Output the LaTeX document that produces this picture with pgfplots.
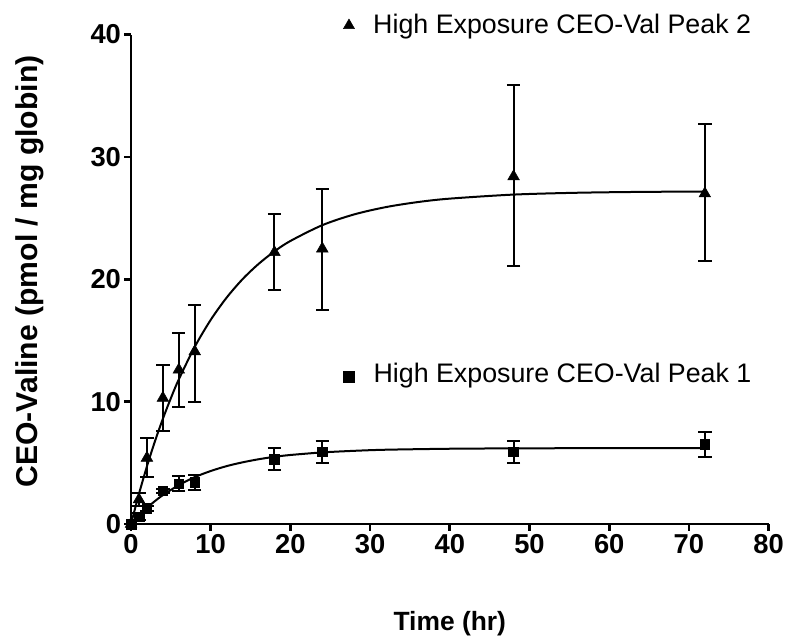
\documentclass[border=0pt]{standalone}
\usepackage{pgfplots}
\pgfplotsset{compat=1.18}
\usepackage{pgfplotstable}
\usepackage{fontspec}
\setmainfont{Liberation Sans}

\pgfplotstableread{
t y yp ym
0 0 0 0
1 2.0 0.5 0.5
2 5.4 1.6 1.55
4 10.3 2.7 2.7
6 12.6 3.0 3.0
8 14.1 3.8 4.1
18 22.2 3.1 3.1
24 22.5 4.9 5.0
48 28.4 7.5 7.3
72 27.0 5.7 5.5
}\peaktwo

\pgfplotstableread{
t y yp ym
0 0 0 0
1 0.6 0.3 0.3
2 1.3 0.2 0.2
4 2.7 0.2 0.2
6 3.3 0.6 0.6
8 3.4 0.6 0.6
18 5.3 0.9 0.9
24 5.9 0.9 0.9
48 5.9 0.9 0.9
72 6.5 1.0 1.0
}\peakone

\begin{document}
\begin{tikzpicture}
\path[use as bounding box] (-98.25pt,-85.5pt) rectangle (492.75pt,393pt);
\begin{axis}[
  at={(0pt,0pt)}, anchor=south west,
  scale only axis,
  width=478.2pt, height=367.1pt,
  xmin=0, xmax=80, ymin=0, ymax=40,
  axis lines*=left,
  axis line style={line width=2.2pt},
  every tick/.style={black, line width=2pt},
  tick align=outside,
  major tick length=5pt,
  xtick={0,10,...,80},
  ytick={0,10,...,40},
  clip=false,
  /pgf/number format/assume math mode=true,
  tick label style={font=\fontsize{20.5}{22}\selectfont\bfseries},
  yticklabel style={xshift=1pt},
  xticklabel style={yshift=1pt},
  xlabel={Time (hr)},
  ylabel={CEO-Valine (pmol / mg globin)},
  xlabel style={font=\fontsize{19.8}{22}\selectfont\bfseries, at={(axis description cs:0.5,-0.2166)}, anchor=base},
  ylabel style={font=\fontsize{22.6}{24}\selectfont\bfseries, at={(axis description cs:-0.147,0.516)}, anchor=base},
]
% fitted curves
\addplot[black, line width=1.5pt, smooth] coordinates {
(0,0) (1,2.46) (2,4.71) (3,6.75) (4,8.60) (5,10.28) (6,11.82) (8,14.48)
(10,16.68) (12,18.50) (14,20.01) (16,21.25) (18,22.28) (20,23.13)
(24,24.42) (28,25.30) (32,25.90) (36,26.31) (40,26.59) (48,26.92)
(56,27.07) (64,27.14) (72,27.17)};
\addplot[black, line width=1.5pt, smooth] coordinates {
(0,0) (1,0.70) (2,1.32) (3,1.87) (4,2.36) (6,3.18) (8,3.83) (10,4.33)
(12,4.73) (14,5.04) (16,5.29) (18,5.49) (20,5.64) (24,5.85) (28,5.98)
(32,6.07) (40,6.15) (48,6.18) (60,6.20) (72,6.20)};
% data with error bars
\addplot[only marks, mark=triangle*, mark size=5pt, black,
  error bars/.cd, y dir=both, y explicit,
  error bar style={line width=1.5pt},
  error mark options={rotate=90, mark size=5pt, line width=1.5pt}]
  table[x=t, y=y, y error plus=yp, y error minus=ym] {\peaktwo};
\addplot[only marks, mark=square*, mark size=3.6pt, black,
  error bars/.cd, y dir=both, y explicit,
  error bar style={line width=1.5pt},
  error mark options={rotate=90, mark size=5pt, line width=1.5pt}]
  table[x=t, y=y, y error plus=yp, y error minus=ym] {\peakone};
% legend-like labels
\addplot[only marks, mark=triangle*, mark size=4.8pt, black] coordinates {(27.35,40.74)};
\addplot[only marks, mark=square*, mark size=3.8pt, black] coordinates {(27.33,12.03)};
\node[anchor=base west, inner sep=0pt, font=\fontsize{20.1}{22}\selectfont] at (axis cs:30.36,40.11) {High Exposure CEO-Val Peak 2};
\node[anchor=base west, inner sep=0pt, font=\fontsize{20.1}{22}\selectfont] at (axis cs:30.4,11.58) {High Exposure CEO-Val Peak 1};
\end{axis}
\end{tikzpicture}
\end{document}
